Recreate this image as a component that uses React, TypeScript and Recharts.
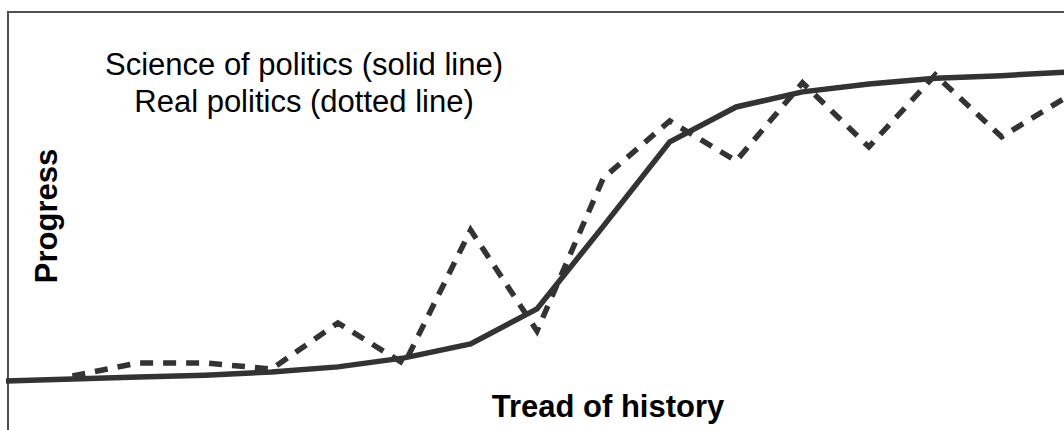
import { Line, LineChart, XAxis, YAxis } from 'recharts'

// steps along the "tread of history"
const steps = [0, 1, 2, 3, 4, 5, 6, 7, 8, 9, 10, 11, 12, 13, 14, 15, 16]

// science of politics (solid)
const science = [
  5.3, 5.8, 6.4, 6.9, 7.8, 9.2, 11.7, 15.6, 25.3, 48.3, 71.7, 81.4, 85.6, 87.8,
  89.4, 90.1, 91.1,
]

// real politics (dotted), no value at the first step
const real = [
  null, 6.7, 10.3, 10.3, 8.6, 21.4, 10.0, 47.2, 19.2, 61.7, 77.5, 66.4, 88.1,
  70.3, 90.3, 73.1, 84.4,
]

const data = steps.map((s, i) => ({ step: s, science: science[i], real: real[i] }))

const lineColor = '#333333'
const font = '"Liberation Sans", Arial, sans-serif'

export default function App() {
  return (
    <div
      style={{
        position: 'absolute',
        left: 0,
        top: 0,
        width: 1064,
        height: 430,
        overflow: 'hidden',
        background: '#fff',
      }}
    >
      <div
        style={{
          position: 'absolute',
          left: 7,
          top: 11,
          width: 1200,
          height: 600,
          borderLeft: '2px solid #505050',
          borderTop: '2px solid #505050',
        }}
      />
      <div style={{ position: 'absolute', left: 6, top: 40 }}>
        <LineChart
          width={1062}
          height={360}
          data={data}
          margin={{ top: 0, right: 0, bottom: 0, left: 0 }}
        >
          <XAxis dataKey="step" type="number" domain={[0, 16]} hide />
          <YAxis type="number" domain={[0, 100]} hide />
          <Line
            type="linear"
            dataKey="science"
            stroke={lineColor}
            strokeWidth={5.5}
            dot={false}
            isAnimationActive={false}
          />
          <Line
            type="linear"
            dataKey="real"
            stroke={lineColor}
            strokeWidth={5.5}
            strokeDasharray="13 10"
            dot={false}
            connectNulls={false}
            isAnimationActive={false}
          />
        </LineChart>
      </div>
      <svg
        width={1064}
        height={430}
        style={{ position: 'absolute', left: 0, top: 0, pointerEvents: 'none' }}
      >
        <text x={304} y={75} textAnchor="middle" fontFamily={font} fontSize={31} fill="#000">
          Science of politics (solid line)
        </text>
        <text x={304} y={112} textAnchor="middle" fontFamily={font} fontSize={31} fill="#000">
          Real politics (dotted line)
        </text>
        <text
          x={57}
          y={216}
          textAnchor="middle"
          transform="rotate(-90 57 216)"
          fontFamily={font}
          fontSize={31}
          fontWeight="bold"
          fill="#000"
        >
          Progress
        </text>
        <text
          x={608}
          y={417}
          textAnchor="middle"
          fontFamily={font}
          fontSize={31}
          fontWeight="bold"
          fill="#000"
        >
          Tread of history
        </text>
      </svg>
    </div>
  )
}
